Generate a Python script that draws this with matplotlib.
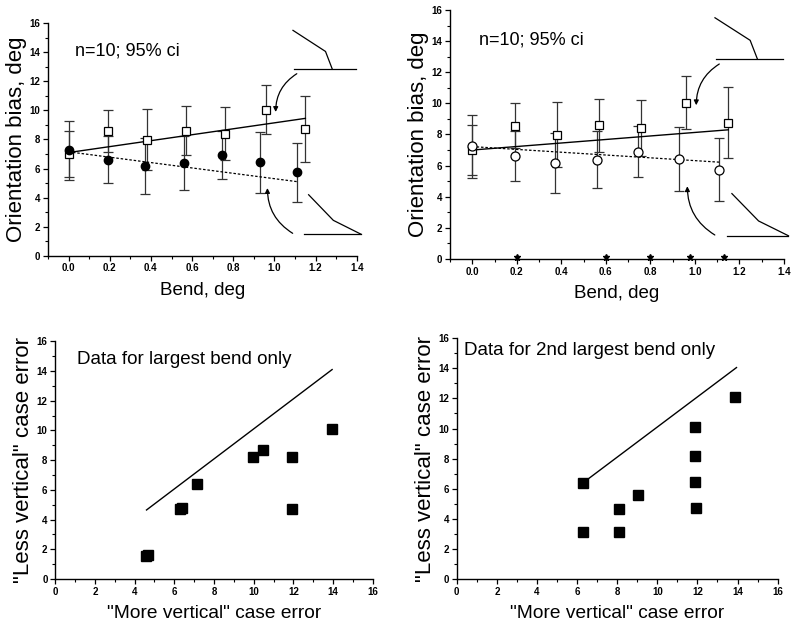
import numpy as np
import matplotlib
matplotlib.use('Agg')
import matplotlib.pyplot as plt
from matplotlib.ticker import MultipleLocator

plt.rcParams['font.family'] = ['Liberation Sans', 'DejaVu Sans']

# top panels: orientation bias vs bend (same data in both panels)
sq_x = [0.0, 0.19, 0.38, 0.57, 0.76, 0.96, 1.15]
sq_y = [7.0, 8.57, 7.98, 8.6, 8.4, 10.05, 8.75]
sq_err = [1.6, 1.45, 2.1, 1.7, 1.8, 1.7, 2.27]

ci_x = [0.0, 0.19, 0.37, 0.56, 0.745, 0.93, 1.11]
ci_y = [7.25, 6.62, 6.15, 6.38, 6.9, 6.42, 5.73]
ci_err = [2.02, 1.62, 1.93, 1.85, 1.65, 2.07, 2.02]

# regression lines (start, end) for each top panel
fit_left_sq = ([0.0, 1.15], [7.1, 9.45])
fit_left_ci = ([0.0, 1.11], [7.15, 5.1])
fit_right_sq = ([0.0, 1.15], [7.0, 8.3])
fit_right_ci = ([0.0, 1.11], [7.22, 6.22])

star_x = [0.2, 0.6, 0.8, 0.98, 1.13]

# bottom panels: less vs more vertical case error
bl_x = [4.55, 4.68, 6.27, 6.37, 7.15, 9.95, 10.45, 11.95, 11.95, 13.93]
bl_y = [1.55, 1.65, 4.7, 4.75, 6.4, 8.2, 8.7, 8.2, 4.72, 10.1]
bl_line = ([4.6, 13.95], [4.65, 14.1])

br_x = [6.27, 6.27, 8.07, 8.07, 9.05, 11.88, 11.9, 11.9, 11.92, 13.9]
br_y = [6.36, 3.1, 4.68, 3.1, 5.6, 10.08, 8.2, 6.42, 4.7, 12.1]
br_line = ([6.3, 13.95], [6.4, 14.05])


def style_axis(ax, xmaj, xmin):
    for s in ['top', 'right']:
        ax.spines[s].set_visible(False)
    for s in ['left', 'bottom']:
        ax.spines[s].set_linewidth(1.0)
    ax.xaxis.set_major_locator(MultipleLocator(xmaj))
    ax.xaxis.set_minor_locator(MultipleLocator(xmin))
    ax.yaxis.set_major_locator(MultipleLocator(2))
    ax.yaxis.set_minor_locator(MultipleLocator(1))
    ax.tick_params(which='major', direction='out', length=3.5, width=0.9,
                   labelsize=7, pad=2)
    ax.tick_params(which='minor', direction='out', length=2, width=0.8)
    for lab in ax.get_xticklabels() + ax.get_yticklabels():
        lab.set_fontweight('bold')


def draw_icons(ax):
    # bent-line stimulus sketches with curved arrows
    kw = dict(color='black', lw=0.9, clip_on=False)
    ax.plot([1.09, 1.248, 1.28], [15.5, 14.05, 12.87], **kw)
    ax.plot([1.095, 1.395], [12.87, 12.87], **kw)
    ax.plot([1.166, 1.286, 1.42], [4.2, 2.44, 1.49], **kw)
    ax.plot([1.145, 1.42], [1.49, 1.49], **kw)
    ax.annotate('', xy=(1.006, 9.7), xytext=(1.12, 12.62), annotation_clip=False,
                arrowprops=dict(arrowstyle='-|>', color='black', lw=0.9,
                                mutation_scale=7, connectionstyle='arc3,rad=0.3'))
    ax.annotate('', xy=(0.966, 4.85), xytext=(1.1, 1.45), annotation_clip=False,
                arrowprops=dict(arrowstyle='-|>', color='black', lw=0.9,
                                mutation_scale=7, connectionstyle='arc3,rad=-0.3'))


def top_panel(ax, fit_sq, fit_ci, filled):
    ebkw = dict(fmt='none', ecolor='#333333', elinewidth=0.9, capsize=3.8, capthick=0.9)
    ax.errorbar(sq_x, sq_y, yerr=sq_err, **ebkw)
    ax.errorbar(ci_x, ci_y, yerr=ci_err, **ebkw)
    ax.plot(fit_sq[0], fit_sq[1], color='black', lw=1.0)
    ax.plot(fit_ci[0], fit_ci[1], color='black', lw=0.9, ls=(0, (2, 1.5)))
    ax.plot(sq_x, sq_y, 's', ms=5.5, mfc='white', mec='black', mew=0.9, zorder=4)
    if filled:
        ax.plot(ci_x, ci_y, 'o', ms=6, mfc='black', mec='black', zorder=4)
    else:
        ax.plot(ci_x, ci_y, 'o', ms=6.5, mfc='white', mec='black', mew=0.9, zorder=4)
    ax.set_xlim(-0.1, 1.4)
    ax.set_ylim(0, 16)
    style_axis(ax, 0.2, 0.1)
    ax.set_xticks(np.arange(0, 1.41, 0.2))
    ax.set_xticklabels(['%.1f' % v for v in np.arange(0, 1.41, 0.2)], fontweight='bold')
    ax.set_xlabel('Bend, deg', fontsize=13.5, labelpad=6)
    ax.set_ylabel('Orientation bias, deg', fontsize=16, labelpad=2)
    ax.text(0.03, 14.1, 'n=10; 95% ci', fontsize=13, va='center')
    draw_icons(ax)


def bottom_panel(ax, xs, ys, line, title):
    ax.plot(line[0], line[1], color='black', lw=1.0)
    ax.plot(xs, ys, 's', ms=6.5, color='black', zorder=4)
    ax.set_xlim(0, 16)
    ax.set_ylim(0, 16)
    style_axis(ax, 2, 1)
    ax.set_xlabel('"More vertical" case error', fontsize=13.8, labelpad=6)
    ax.set_ylabel('"Less vertical" case error', fontsize=16, labelpad=2)
    ax.text(title[0], title[1], title[2], fontsize=13.5, va='center')


fig = plt.figure(figsize=(8, 6.24), dpi=100)
ax1 = fig.add_axes([0.06, 0.59, 0.386, 0.373])
ax2 = fig.add_axes([0.5625, 0.585, 0.4175, 0.399])
ax3 = fig.add_axes([0.069, 0.072, 0.397, 0.381])
ax4 = fig.add_axes([0.571, 0.072, 0.401, 0.386])

top_panel(ax1, fit_left_sq, fit_left_ci, filled=True)
top_panel(ax2, fit_right_sq, fit_right_ci, filled=False)
ax2.plot(star_x, [0.15] * len(star_x), '*', color='black', ms=5, clip_on=False, zorder=5)

bottom_panel(ax3, bl_x, bl_y, bl_line, (1.1, 14.8, 'Data for largest bend only'))
bottom_panel(ax4, br_x, br_y, br_line, (0.35, 15.2, 'Data for 2nd largest bend only'))

fig.savefig('out.png', dpi=100)
plt.close(fig)
